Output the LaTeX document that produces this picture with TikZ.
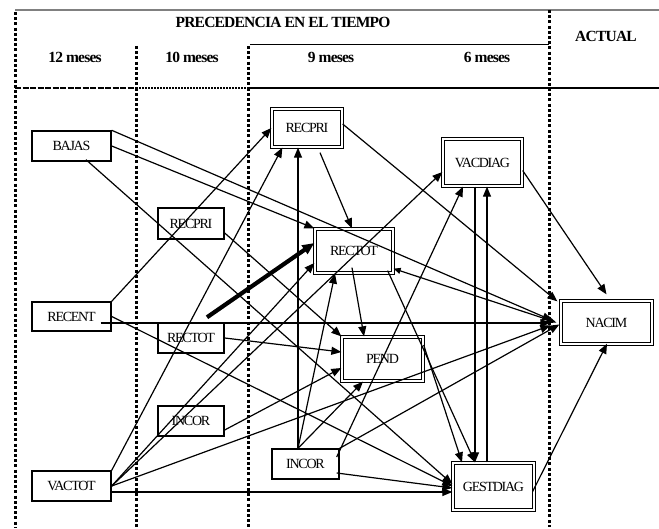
\documentclass[tikz,border=0pt]{standalone}
\usepackage{fontspec}
\setmainfont{Liberation Serif}
\newfontfamily\nodefont[LetterSpace=-9]{Liberation Serif}
\newfontfamily\headfont[LetterSpace=-5]{Liberation Serif}
\usetikzlibrary{arrows.meta,calc}
\begin{document}
\begin{tikzpicture}[x=1pt,y=-1pt,
  box/.style={draw, line width=1.4pt, inner sep=0pt, font=\nodefont\fontsize{14}{15}\selectfont},
  dbox/.style={box, double, line width=1.3pt, double distance=1.4pt},
  head/.style={inner sep=0pt, font=\headfont\bfseries\fontsize{15.5}{17}\selectfont},
  vdot/.style={line width=3pt, dash pattern=on 3pt off 2.2pt},
  conn/.style={line width=1.2pt, -{Triangle[length=10pt,width=8pt]}},
  biconn/.style={line width=1.2pt, {Triangle[length=7pt,width=6pt]}-{Triangle[length=10pt,width=8pt]}},
  thickconn/.style={line width=4.2pt, -{Triangle[length=12pt,width=10pt]}}
]
\useasboundingbox (0,0) rectangle (659,529);

% header lines and column separators
\draw[gray, line width=1.6pt] (15,10) -- (659,10);
\draw[line width=1pt] (250,45) -- (549,45);
\draw[line width=2.6pt, dash pattern=on 6pt off 1.5pt] (15,88) -- (136,88);
\draw[line width=2pt, dash pattern=on 2pt off 1pt] (136,88) -- (248,88);
\draw[line width=2.8pt] (248,88) -- (659,88);
\draw[vdot] (15,12) -- (15,527);
\draw[vdot] (136,46) -- (136,527);
\draw[vdot] (248,46) -- (248,527);
\draw[vdot] (549,10) -- (549,527);

% headers
\node[head] (t1) at (283,22) {PRECEDENCIA EN EL TIEMPO};
\node[head] (h12) at (75,57) {12 meses};
\node[head] (h10) at (192,57) {10 meses};
\node[head] (h9) at (331,57) {9 meses};
\node[head] (h6) at (487,57) {6 meses};
\node[head] (hA) at (606,36) {ACTUAL};

% nodes
\node[box, minimum width=79, minimum height=30] (BAJAS) at (71.5,146) {BAJAS};
\node[box, minimum width=66, minimum height=31] (RECPRI10) at (191,223.5) {RECPRI};
\node[box, minimum width=79, minimum height=29] (RECENT) at (71.5,316.5) {RECENT};
\node[box, minimum width=66, minimum height=30] (RECTOT10) at (191,338) {RECTOT};
\node[box, minimum width=66, minimum height=30] (INCOR10) at (191,421) {INCOR};
\node[box, minimum width=79, minimum height=30] (VACTOT) at (71.5,486) {VACTOT};
\node[box, minimum width=67, minimum height=30] (INCOR9) at (305.5,464) {INCOR};
\node[dbox, minimum width=70, minimum height=38] (RECPRI9) at (307,128) {RECPRI};
\node[dbox, minimum width=78, minimum height=44] (RECTOT9) at (354,251) {RECTOT};
\node[dbox, minimum width=81, minimum height=44] (PEND) at (382.5,359) {PEND};
\node[dbox, minimum width=79, minimum height=47] (VACDIAG) at (482.5,162.5) {VACDIAG};
\node[dbox, minimum width=81, minimum height=47] (GESTDIAG) at (493.5,486.5) {GESTDIAG};
\node[dbox, minimum width=91, minimum height=43] (NACIM) at (606.5,322.5) {NACIM};

% connectors
\draw[conn] (BAJAS.east) -- (RECTOT9.north west);
\draw[conn] (BAJAS.north east) -- ($(NACIM.west)+(-8,-2)$);
\draw[conn] ($(BAJAS.south)+(14.5,-2)$) -- ($(GESTDIAG.west)+(0,-2.5)$);
\draw[conn] ($(RECPRI10.east)+(0,9.5)$) -- (PEND.north west);
\draw[conn] (RECENT.north east) -- (RECPRI9.west);
\draw[conn] ($(RECENT.east)+(-11,6.5)$) -- ($(NACIM.west)+(-10,0.5)$);
\draw[conn] (RECENT.east) -- ($(GESTDIAG.west)+(0,-0.5)$);
\draw[thickconn] ($(RECTOT10.north)+(16,-5)$) -- ($(RECTOT9.west)+(0,-8)$);
\draw[conn] (RECTOT10.east) -- ($(PEND.west)+(0,-7)$);
\draw[conn] ($(INCOR10.east)+(0,9)$) -- ($(PEND.west)+(0,9)$);
\draw[conn] (VACTOT.north east) -- ($(RECPRI9.south west)+(11,0)$);
\draw[conn] (VACTOT.east) -- ($(RECTOT9.west)+(0,12)$);
\draw[conn] (VACTOT.east) -- ($(VACDIAG.west)+(0,9.5)$);
\draw[conn] (VACTOT.east) -- ($(NACIM.west)+(-10,3)$);
\draw[conn] ($(VACTOT.east)+(0,6)$) -- ($(GESTDIAG.west)+(0,5.5)$);
\draw[conn] ($(INCOR9.north)+(-7.5,0)$) -- ($(RECPRI9.south)+(-9,0)$);
\draw[conn] ($(INCOR9.north)+(-7.5,0)$) -- ($(RECTOT9.south)+(-19,0)$);
\draw[conn] ($(INCOR9.north)+(-7.5,0)$) -- ($(PEND.south)+(-19.5,0)$);
\draw[conn] ($(INCOR9.east)+(-3,-7)$) -- ($(VACDIAG.south)+(-19.5,0)$);
\draw[conn] (INCOR9.north east) -- ($(NACIM.west)+(-1,2)$);
\draw[conn] ($(INCOR9.east)+(-3,9)$) -- ($(GESTDIAG.west)+(0,1.5)$);
\draw[conn] ($(RECPRI9.south)+(13,5)$) -- ($(RECTOT9.north)+(-2,0)$);
\draw[conn] ($(RECPRI9.east)+(0,-4)$) -- ($(NACIM.north west)+(-3,1)$);
\draw[conn] ($(RECTOT9.south)+(-2,-6)$) -- ($(PEND.north)+(-18.5,0)$);
\draw[biconn] ($(RECTOT9.south east)+(0,-5)$) -- ($(NACIM.west)+(-4,0)$);
\draw[conn] ($(RECTOT9.south east)+(-6,-3)$) -- ($(GESTDIAG.north)+(-18.5,0)$);
\draw[conn] ($(PEND.east)+(0,-14)$) -- ($(GESTDIAG.north)+(-31.5,0)$);
\draw[conn] ($(VACDIAG.south)+(-7.5,0)$) -- ($(GESTDIAG.north)+(-18.5,0)$);
\draw[conn] ($(GESTDIAG.north)+(-6.5,0)$) -- ($(VACDIAG.south)+(4.5,0)$);
\draw[conn] ($(VACDIAG.east)+(0,8)$) -- ($(NACIM.north)+(0,-6)$);
\draw[conn] ($(GESTDIAG.east)+(-2,5)$) -- ($(NACIM.south)+(0.5,-1)$);
\end{tikzpicture}
\end{document}
